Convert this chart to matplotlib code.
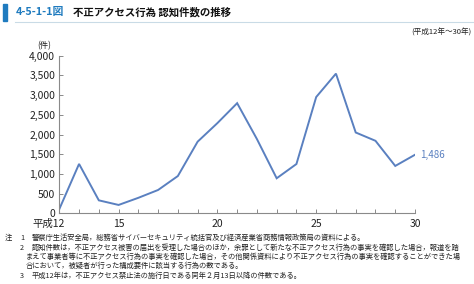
import matplotlib
matplotlib.use("Agg")
import matplotlib.pyplot as plt
from matplotlib.patches import Rectangle
from matplotlib.lines import Line2D
from matplotlib.transforms import ScaledTranslation

plt.rcParams['font.family'] = ['Noto Sans CJK JP', 'DejaVu Sans']

years = list(range(12, 31))
counts = [106, 1253, 329, 212, 393, 592, 946, 1818, 2289, 2795, 1885, 889, 1251, 2951, 3545, 2051, 1840, 1202, 1486]
xtick_vals = [12, 15, 20, 25, 30]
xtick_labels = ['平成12', '15', '20', '25', '30']
ytick_vals = [0, 500, 1000, 1500, 2000, 2500, 3000, 3500, 4000]
ytick_labels = ['0', '500', '1,000', '1,500', '2,000', '2,500', '3,000', '3,500', '4,000']

title_num = '4-5-1-1図'
title_text = '不正アクセス行為 認知件数の推移'
period = '(平成12年～30年)'
unit = '(件)'
notes = [
    ('注', '1', '警察庁生活安全局，総務省サイバーセキュリティ統括官及び経済産業省商務情報政策局の資料による。'),
    ('', '2', '認知件数は，不正アクセス被害の届出を受理した場合のほか，余罪として新たな不正アクセス行為の事実を確認した場合，報道を踏'),
    ('', '', 'まえて事業者等に不正アクセス行為の事実を確認した場合，その他関係資料により不正アクセス行為の事実を確認することができた場'),
    ('', '', '合において，被疑者が行った構成要件に該当する行為の数である。'),
    ('', '3', '平成12年は，不正アクセス禁止法の施行日である同年２月13日以降の件数である。'),
]

W, H = 474, 284
fig = plt.figure(figsize=(W / 100, H / 100), dpi=100)
fig.patch.set_facecolor('white')

def fx(px):
    return px / W

def fy(py):
    return 1 - py / H

line_color = '#5a80c0'
axis_color = '#8a8a8a'

ax = fig.add_axes([fx(59.3), fy(213.3), fx(415) - fx(59.3), fy(55.7) - fy(213.3)])
ax.plot(years, counts, color=line_color, lw=1.4, solid_joinstyle='miter')
ax.set_xlim(12, 30)
ax.set_ylim(0, 4000)
ax.set_yticks(ytick_vals)
ax.set_yticklabels(ytick_labels, fontsize=7.5, color='#222222')
ax.set_xticks(years, minor=True)
ax.set_xticks(xtick_vals)
ax.set_xticklabels(xtick_labels, fontsize=7.5, color='#222222')
ax.tick_params(axis='both', which='both', direction='in', color=axis_color, width=0.7)
ax.tick_params(axis='x', which='both', length=3, pad=4)
ax.tick_params(axis='y', length=3, pad=3)
first = ax.get_xticklabels()[0]
first.set_horizontalalignment('right')
first.set_transform(first.get_transform() + ScaledTranslation(6 / 100, 0, fig.dpi_scale_trans))
for s in ['top', 'right']:
    ax.spines[s].set_visible(False)
for s in ['left', 'bottom']:
    ax.spines[s].set_color(axis_color)
    ax.spines[s].set_linewidth(0.8)
ax.set_facecolor('none')

ax.annotate(f'{counts[-1]:,}', xy=(years[-1], counts[-1]), xytext=(4, 0),
            textcoords='offset points', fontsize=7, color=line_color, va='center', ha='left')

# title
fig.patches.append(Rectangle((fx(3), fy(21)), fx(4), fy(4) - fy(21), transform=fig.transFigure,
                             color='#1f7bbf', zorder=5))
fig.text(fx(16), fy(12.5), title_num, fontsize=7.8, fontweight='bold', color='#1f7bbf', va='center', ha='left')
fig.text(fx(73), fy(12.5), title_text, fontsize=7.5, fontweight='bold', color='#111111', va='center', ha='left')
fig.add_artist(Line2D([fx(15), 1], [fy(21.5), fy(21.5)], transform=fig.transFigure, color='#c9dbe6', lw=0.8))
fig.text(fx(472), fy(33), period, fontsize=5.5, color='#222222', va='center', ha='right')
fig.text(fx(44), fy(46), unit, fontsize=6, color='#222222', va='center', ha='center')

# notes
nfs = 5.25
ys = [238, 248, 257, 266, 276]
for (a, b, t), y in zip(notes, ys):
    if a:
        fig.text(fx(5), fy(y), a, fontsize=nfs, color='#222222', va='center', ha='left')
    if b:
        fig.text(fx(20), fy(y), b, fontsize=nfs, color='#222222', va='center', ha='left')
        fig.text(fx(32), fy(y), t, fontsize=nfs, color='#222222', va='center', ha='left')
    else:
        fig.text(fx(26), fy(y), t, fontsize=nfs, color='#222222', va='center', ha='left')

fig.savefig('out.png', dpi=100)
